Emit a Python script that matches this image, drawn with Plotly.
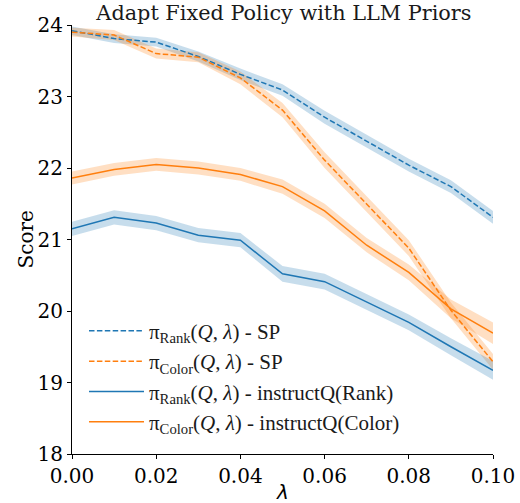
import plotly.graph_objects as go

lam = [0.00, 0.01, 0.02, 0.03, 0.04, 0.05, 0.06, 0.07, 0.08, 0.09, 0.10]

rank_sp = [23.92, 23.81, 23.76, 23.56, 23.31, 23.09, 22.71, 22.38, 22.04, 21.74, 21.31]
color_sp = [23.90, 23.86, 23.60, 23.55, 23.26, 22.81, 22.11, 21.50, 20.88, 20.01, 19.29]
rank_iq = [21.15, 21.31, 21.23, 21.06, 20.99, 20.52, 20.41, 20.13, 19.84, 19.50, 19.17]
color_iq = [21.86, 21.98, 22.05, 22.00, 21.91, 21.74, 21.40, 20.92, 20.54, 20.03, 19.69]

rank_sp_err = [0.06, 0.06, 0.06, 0.07, 0.08, 0.08, 0.09, 0.09, 0.09, 0.09, 0.09]
color_sp_err = [0.06, 0.07, 0.07, 0.07, 0.09, 0.10, 0.11, 0.11, 0.11, 0.11, 0.11]
rank_iq_err = [0.10, 0.10, 0.10, 0.10, 0.10, 0.11, 0.11, 0.11, 0.11, 0.12, 0.13]
color_iq_err = [0.09, 0.09, 0.09, 0.09, 0.09, 0.10, 0.10, 0.10, 0.11, 0.13, 0.15]

names = [
    "π<sub>Rank</sub>(<i>Q</i>, <i>λ</i>) - SP",
    "π<sub>Color</sub>(<i>Q</i>, <i>λ</i>) - SP",
    "π<sub>Rank</sub>(<i>Q</i>, <i>λ</i>) - instructQ(Rank)",
    "π<sub>Color</sub>(<i>Q</i>, <i>λ</i>) - instructQ(Color)",
]

BLUE = "#1f77b4"
ORANGE = "#ff7f0e"
series = [
    (rank_sp, rank_sp_err, BLUE, "rgba(31,119,180,0.25)", "5.5px,2.4px"),
    (color_sp, color_sp_err, ORANGE, "rgba(255,127,14,0.25)", "5.5px,2.4px"),
    (rank_iq, rank_iq_err, BLUE, "rgba(31,119,180,0.25)", "solid"),
    (color_iq, color_iq_err, ORANGE, "rgba(255,127,14,0.25)", "solid"),
]

fig = go.Figure()
for (vals, err, col, fcol, dash), name in zip(series, names):
    upper = [v + e for v, e in zip(vals, err)]
    lower = [v - e for v, e in zip(vals, err)]
    fig.add_trace(go.Scatter(x=lam, y=upper, mode="lines", line=dict(width=0),
                             showlegend=False, hoverinfo="skip"))
    fig.add_trace(go.Scatter(x=lam, y=lower, mode="lines", line=dict(width=0),
                             fill="tonexty", fillcolor=fcol, showlegend=False, hoverinfo="skip"))
for (vals, err, col, fcol, dash), name in zip(series, names):
    fig.add_trace(go.Scatter(x=lam, y=vals, mode="lines", name=name,
                             line=dict(color=col, width=1.5, dash=dash)))

SERIF = "DejaVu Serif"
fig.update_layout(
    width=520, height=503,
    margin=dict(l=72, r=27, t=25, b=49, autoexpand=False),
    plot_bgcolor="white", paper_bgcolor="white",
    font=dict(family=SERIF, size=20, color="black"),
    title=dict(text="Adapt Fixed Policy with LLM Priors", x=0.546, xanchor="center",
               y=0.975, yanchor="middle", font=dict(family=SERIF, size=20.8, color="#1a1a1a")),
    showlegend=True,
    legend=dict(x=0.0285, y=0.334, xanchor="left", yanchor="top", bgcolor="rgba(0,0,0,0)",
                traceorder="normal",
                font=dict(family="Liberation Serif, Times New Roman, serif", size=21, color="#1a1a1a"),
                itemwidth=55, tracegroupgap=0),
    annotations=[
        dict(text="Score", xref="paper", yref="paper", x=-0.1116, y=0.5, textangle=-90,
             showarrow=False, xanchor="center", yanchor="middle",
             font=dict(family=SERIF, size=20, color="black")),
        dict(text="<i>λ</i>", xref="paper", yref="paper", x=0.5, y=-0.0886,
             showarrow=False, xanchor="center", yanchor="middle",
             font=dict(family="DejaVu Sans", size=20, color="black")),
    ],
)
fig.update_xaxes(range=[0, 0.1], tickvals=[0, 0.02, 0.04, 0.06, 0.08, 0.1],
                 ticktext=["0.00", "0.02", "0.04", "0.06", "0.08", "0.10"],
                 tickfont=dict(family=SERIF, size=20, color="black"),
                 showline=True, linecolor="black", linewidth=1, ticks="outside", ticklen=4,
                 tickcolor="black", showgrid=False, zeroline=False, mirror=False, automargin=False)
fig.update_yaxes(range=[18, 24], dtick=1, showline=True, linecolor="black", linewidth=1,
                 tickfont=dict(family=SERIF, size=20, color="black"),
                 ticks="outside", ticklen=4, tickcolor="black", showgrid=False, zeroline=False,
                 automargin=False)

# remove the browser's default 8px page margin so the 520x503 figure fills the window
fig.write_html("out.html", config={"displayModeBar": False},
               post_script="document.body.style.margin='0px';")
